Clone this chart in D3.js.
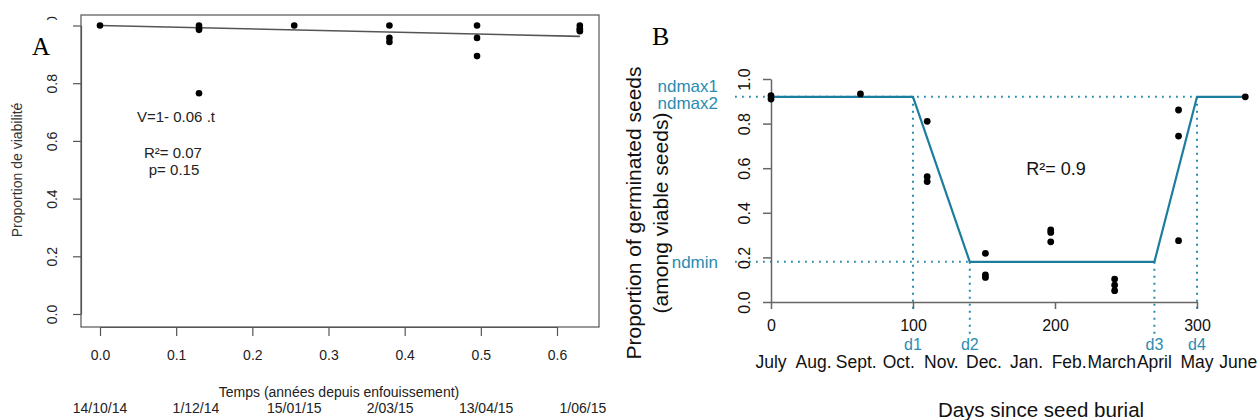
<!DOCTYPE html>
<html>
<head>
<meta charset="utf-8">
<script src="https://cdn.jsdelivr.net/npm/d3@7"></script>
<style>
  body { margin: 0; background: #fff; }
  svg { display: block; font-family: 'Liberation Sans', Arial, sans-serif; }
</style>
</head>
<body>
<script>
// panel A : viability over time
const aTicks = [0, 0.1, 0.2, 0.3, 0.4, 0.5, 0.6]
const aYTicks = [0, 0.2, 0.4, 0.6, 0.8, 1.0]
const aTime = [0, 0.13, 0.13, 0.13, 0.13, 0.255, 0.38, 0.38, 0.38, 0.495, 0.495, 0.495, 0.63, 0.63, 0.63, 0.63]
const aViab = [1.0, 1.0, 0.99, 0.985, 0.765, 1.0, 1.0, 0.957, 0.943, 1.0, 0.957, 0.894, 1.0, 0.99, 0.985, 0.98]
const aDates = ['14/10/14', '1/12/14', '15/01/15', '2/03/15', '13/04/15', '1/06/15']
const aDatePos = [0, 0.126, 0.255, 0.381, 0.507, 0.634]
const aFitT = [0, 0.63]

// panel B : germination, days since burial
const bXTicks = [0, 100, 200, 300, 400]
const bYTicks = [0, 0.2, 0.4, 0.6, 0.8, 1.0]
const bDay = [0, 0, 63, 110, 110, 110, 151, 151, 151, 197, 197, 197, 242, 242, 242, 287, 287, 287, 334]
const bProp = [0.925, 0.91, 0.933, 0.81, 0.562, 0.54, 0.218, 0.121, 0.11, 0.323, 0.312, 0.27, 0.103, 0.076, 0.051, 0.861, 0.744, 0.275, 0.92]
const fitDay = [0, 100, 140, 270, 300, 334]
const fitProp = [0.92, 0.92, 0.18, 0.18, 0.92, 0.92]
const dNames = ['d1', 'd2', 'd3', 'd4']
const dDays = [100, 140, 270, 300]
const months = ['July', 'Aug.', 'Sept.', 'Oct.', 'Nov.', 'Dec.', 'Jan.', 'Feb.', 'March', 'April', 'May', 'June']
const monthDay = [0, 30, 60, 90, 120, 150, 180, 210, 240, 270, 300, 329]

const teal = '#1c7d9e'
const tealText = '#2a8cb0'
const axisCol = '#555'

const svg = d3.select('body').append('svg')
  .attr('width', 1260)
  .attr('height', 420)

// ---------- A ----------
const xA = d3.scaleLinear().domain([0, 0.6]).range([100, 557])
const yA = d3.scaleLinear().domain([0, 1]).range([314, 25.5])

const gA = svg.append('g')

gA.append('rect')
  .attr('x', 81).attr('y', 15)
  .attr('width', 518).attr('height', 312)
  .attr('fill', 'none')
  .attr('stroke', axisCol)
  .attr('stroke-width', 1.2)

const axA = gA.append('g')
  .attr('transform', 'translate(0,327)')
  .call(d3.axisBottom(xA).tickValues(aTicks).tickFormat(d3.format('.1f'))
    .tickSize(9).tickSizeOuter(0).tickPadding(14))
const ayA = gA.append('g')
  .attr('transform', 'translate(81,0)')
  .call(d3.axisLeft(yA).tickValues(aYTicks).tickFormat(d3.format('.1f'))
    .tickSize(8).tickSizeOuter(0))
ayA.selectAll('.tick text')
  .attr('x', 0).attr('y', -24).attr('dy', 0)
  .attr('transform', 'rotate(-90)')
  .attr('text-anchor', 'middle')

for (const ax of [axA, ayA]) {
  ax.selectAll('path, line').attr('stroke', axisCol).attr('stroke-width', 1.2)
  ax.selectAll('text').attr('font-size', 14).attr('fill', '#222')
    .attr('font-family', "'Liberation Sans', Arial, sans-serif")
}

gA.append('text')
  .attr('transform', 'translate(22,170) rotate(-90)')
  .attr('text-anchor', 'middle')
  .attr('font-size', 14).attr('fill', '#333')
  .text('Proportion de viabilité')

gA.append('text')
  .attr('x', 339).attr('y', 397)
  .attr('text-anchor', 'middle')
  .attr('font-size', 14).attr('fill', '#222')
  .text('Temps (années depuis enfouissement)')

gA.selectAll('.date')
  .data(aDates)
  .enter()
  .append('text')
  .attr('x', (d, i) => xA(aDatePos[i]))
  .attr('y', 413)
  .attr('text-anchor', 'middle')
  .attr('font-size', 14).attr('fill', '#222')
  .text(d => d)

gA.append('path')
  .datum(aFitT)
  .attr('d', d3.line().x(t => xA(t)).y(t => yA(1 - 0.06 * t)))
  .attr('fill', 'none')
  .attr('stroke', '#555')
  .attr('stroke-width', 1.6)

gA.selectAll('circle')
  .data(aTime)
  .enter()
  .append('circle')
  .attr('cx', d => xA(d))
  .attr('cy', (d, i) => yA(aViab[i]))
  .attr('r', 3.3)
  .attr('fill', '#000')

gA.append('text').attr('x', 137).attr('y', 122).attr('font-size', 15).attr('fill', '#222').text('V=1- 0.06 .t')
gA.append('text').attr('x', 173).attr('y', 158).attr('text-anchor', 'middle').attr('font-size', 15).attr('fill', '#222').text('R²= 0.07')
gA.append('text').attr('x', 174).attr('y', 175).attr('text-anchor', 'middle').attr('font-size', 15).attr('fill', '#222').text('p= 0.15')

// panel letter sits over the top tick label
gA.append('rect').attr('x', 25).attr('y', 20).attr('width', 42).attr('height', 42).attr('fill', '#fff')
gA.append('text').attr('x', 32).attr('y', 55)
  .attr('font-family', "'Liberation Serif', 'Times New Roman', serif")
  .attr('font-size', 25).text('A')

// ---------- B ----------
const xB = d3.scaleLinear().domain([0, 300]).range([771, 1197])
const yB = d3.scaleLinear().domain([0, 1]).range([302, 79])

const gB = svg.append('g')

// dotted guides
const dots = (x1, y1, x2, y2) => gB.append('line')
  .attr('x1', x1).attr('y1', y1).attr('x2', x2).attr('y2', y2)
  .attr('stroke', tealText)
  .attr('stroke-width', 2)
  .attr('stroke-dasharray', '1.8,5.2')

dots(735, yB(fitProp[0]), xB(dDays[3]), yB(fitProp[0]))
dots(735, yB(fitProp[2]), xB(dDays[1]), yB(fitProp[2]))
dots(xB(dDays[0]), yB(fitProp[0]), xB(dDays[0]), 311)
dots(xB(dDays[1]), yB(fitProp[2]), xB(dDays[1]), 336)
dots(xB(dDays[2]), yB(fitProp[2]), xB(dDays[2]), 336)
dots(xB(dDays[3]), yB(fitProp[0]), xB(dDays[3]), 311)

// the 400 tick lies past the right edge: only its axis line shows
const axB = gB.append('g')
  .attr('transform', 'translate(0,302)')
  .call(d3.axisBottom(xB).tickValues(bXTicks).tickFormat(d => d < 400 ? d : '')
    .tickSize(7).tickSizeOuter(0).tickPadding(11))
const ayB = gB.append('g')
  .attr('transform', 'translate(771,0)')
  .call(d3.axisLeft(yB).tickValues(bYTicks).tickFormat(d3.format('.1f'))
    .tickSize(8).tickSizeOuter(0))
ayB.selectAll('.tick text')
  .attr('x', 0).attr('y', -21).attr('dy', 0)
  .attr('transform', 'rotate(-90)')
  .attr('text-anchor', 'middle')

for (const ax of [axB, ayB]) {
  ax.selectAll('path, line').attr('stroke', '#666').attr('stroke-width', 1.5)
  ax.selectAll('text').attr('font-size', 16).attr('fill', '#111')
    .attr('font-family', "'Liberation Sans', Arial, sans-serif")
}

gB.append('path')
  .datum(fitDay)
  .attr('d', d3.line().x(d => xB(d)).y((d, i) => yB(fitProp[i])))
  .attr('fill', 'none')
  .attr('stroke', teal)
  .attr('stroke-width', 2.2)

gB.selectAll('circle')
  .data(bDay)
  .enter()
  .append('circle')
  .attr('cx', d => xB(d))
  .attr('cy', (d, i) => yB(bProp[i]))
  .attr('r', 3.4)
  .attr('fill', '#000')

gB.selectAll('.dlab')
  .data(dNames)
  .enter()
  .append('text')
  .attr('x', (d, i) => xB(dDays[i]))
  .attr('y', 350)
  .attr('text-anchor', 'middle')
  .attr('font-size', 16).attr('fill', tealText)
  .text(d => d)

gB.selectAll('.month')
  .data(months)
  .enter()
  .append('text')
  .attr('x', (d, i) => xB(monthDay[i]))
  .attr('y', 368)
  .attr('text-anchor', 'middle')
  .attr('font-size', 17.5).attr('fill', '#111')
  .text(d => d)

gB.append('text').attr('x', 718).attr('y', 92).attr('text-anchor', 'end')
  .attr('font-size', 17).attr('fill', tealText).text('ndmax1')
gB.append('text').attr('x', 718).attr('y', 109).attr('text-anchor', 'end')
  .attr('font-size', 17).attr('fill', tealText).text('ndmax2')
gB.append('text').attr('x', 718).attr('y', 268).attr('text-anchor', 'end')
  .attr('font-size', 17).attr('fill', tealText).text('ndmin')

gB.append('text').attr('x', 1056).attr('y', 175).attr('text-anchor', 'middle')
  .attr('font-size', 18).attr('fill', '#111').text('R²= 0.9')

gB.append('text').attr('x', 1041).attr('y', 417).attr('text-anchor', 'middle')
  .attr('font-size', 20.5).attr('fill', '#111').text('Days since seed burial')

gB.append('text')
  .attr('transform', 'translate(641,213) rotate(-90)')
  .attr('text-anchor', 'middle')
  .attr('font-size', 21).attr('fill', '#111')
  .text('Proportion of germinated seeds')
gB.append('text')
  .attr('transform', 'translate(668,213) rotate(-90)')
  .attr('text-anchor', 'middle')
  .attr('font-size', 21).attr('fill', '#111')
  .text('(among viable seeds)')

gB.append('text').attr('x', 652).attr('y', 45)
  .attr('font-family', "'Liberation Serif', 'Times New Roman', serif")
  .attr('font-size', 26).text('B')
</script>
</body>
</html>
